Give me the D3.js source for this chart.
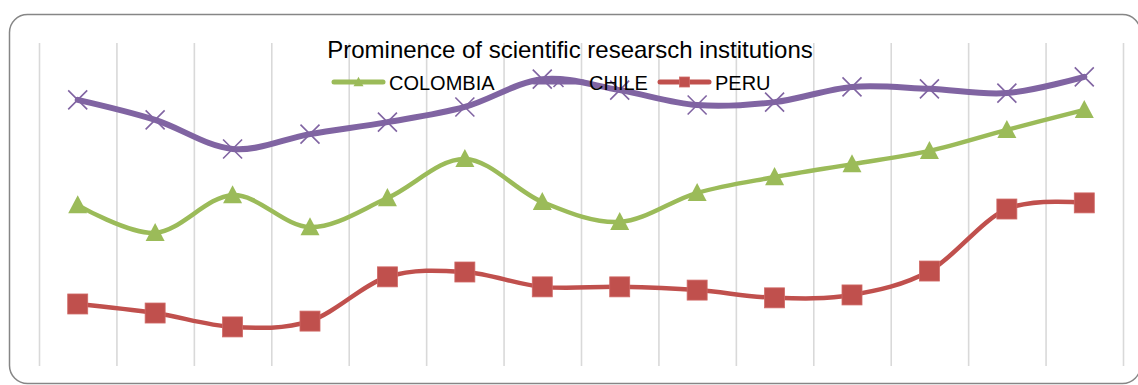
<!DOCTYPE html>
<html>
<head>
<meta charset="utf-8">
<script src="https://cdn.jsdelivr.net/npm/d3@7/dist/d3.min.js"></script>
<style>
  html, body { margin: 0; padding: 0; background: #fff; }
  svg { display: block; font-family: "Liberation Sans", Arial, sans-serif; }
</style>
</head>
<body>
<svg id="chart" width="1138" height="385"></svg>
<script>
// Fourteen observation periods (no axis labels are shown on the chart)
const periods = [1, 2, 3, 4, 5, 6, 7, 8, 9, 10, 11, 12, 13, 14];

// Prominence index per country
const colombia = [49.8, 41.2, 52.9, 43.0, 52.0, 64.1, 50.8, 44.6, 53.6, 58.5, 62.5, 66.6, 73.1, 79.3];
const chile    = [82.4, 76.2, 67.2, 71.8, 75.5, 80.2, 88.8, 85.4, 80.8, 81.7, 86.4, 85.8, 84.5, 89.5];
const peru     = [19.2, 16.4, 12.1, 13.9, 27.6, 29.1, 24.5, 24.5, 23.5, 21.1, 22.0, 29.4, 48.6, 50.5];

const seriesNames = ["COLOMBIA", "CHILE", "PERU"];
const title = "Prominence of scientific researsch institutions";

const series = [
  { name: seriesNames[0], values: colombia, color: "#9BBB59", width: 4.5, marker: "triangle" },
  { name: seriesNames[1], values: chile,    color: "#8064A2", width: 6,   marker: "x" },
  { name: seriesNames[2], values: peru,     color: "#C0504D", width: 4.5, marker: "square" }
];

const svg = d3.select("#chart");

// Outer chart frame with rounded corners
svg.append("rect")
  .attr("x", 9.5).attr("y", 14.5)
  .attr("width", 1131).attr("height", 369)
  .attr("rx", 18).attr("ry", 18)
  .attr("fill", "#fff")
  .attr("stroke", "#868686")
  .attr("stroke-width", 1.5);

const plot = { left: 39, right: 1123, top: 43, bottom: 366 };

const x = d3.scaleBand().domain(periods).range([plot.left, plot.right]).paddingInner(0).paddingOuter(0);
const y = d3.scaleLinear().domain([0, 100]).range([plot.bottom, plot.top]);

// Vertical gridlines at the category boundaries
const gridAxis = d3.axisBottom(
    d3.scaleLinear().domain([0, periods.length]).range([plot.left, plot.right]))
  .tickValues(d3.range(periods.length + 1))
  .tickSize(-(plot.bottom - plot.top))
  .tickFormat("");

const grid = svg.append("g")
  .attr("transform", `translate(0,${plot.bottom})`)
  .call(gridAxis);
grid.select(".domain").remove();
grid.selectAll(".tick line")
  .attr("stroke", "#d9d9d9")
  .attr("stroke-width", 1.6);

const cx = p => x(p) + x.bandwidth() / 2;

const line = d3.line()
  .x((d, i) => cx(periods[i]))
  .y(d => y(d))
  .curve(d3.curveCardinal.tension(0));

// Marker drawing helper
function drawMarker(g, type, color, px, py, size) {
  if (type === "triangle") {
    const h = size * 0.95, w = size;
    g.append("path")
      .attr("d", `M${px},${py - h * 0.55} L${px + w / 2},${py + h * 0.45} L${px - w / 2},${py + h * 0.45} Z`)
      .attr("fill", color);
  } else if (type === "square") {
    g.append("rect")
      .attr("x", px - size / 2).attr("y", py - size / 2)
      .attr("width", size).attr("height", size)
      .attr("fill", color)
      .attr("stroke", "#d06a67").attr("stroke-width", 0.8);
  } else if (type === "x") {
    const r = size / 2;
    g.append("path")
      .attr("d", `M${px - r},${py - r} L${px + r},${py + r} M${px - r},${py + r} L${px + r},${py - r}`)
      .attr("stroke", color)
      .attr("stroke-width", 1.6)
      .attr("fill", "none");
  }
}

// Title
svg.append("text")
  .attr("x", 570).attr("y", 58)
  .attr("text-anchor", "middle")
  .attr("font-size", 24)
  .attr("fill", "#000")
  .text(title);

// Series lines and markers
const seriesG = svg.append("g");
series.forEach(s => {
  seriesG.append("path")
    .datum(s.values)
    .attr("d", line)
    .attr("fill", "none")
    .attr("stroke", s.color)
    .attr("stroke-width", s.width)
    .attr("stroke-linejoin", "round")
    .attr("stroke-linecap", "round");
  const mg = seriesG.append("g");
  s.values.forEach((v, i) => {
    drawMarker(mg, s.marker, s.color, cx(periods[i]), y(v), s.marker === "square" ? 20 : 19);
  });
});

// Legend, drawn above the series
const legendKeyStart = [332, 532, 658];
const legend = svg.append("g");
series.forEach((s, i) => {
  const lx = legendKeyStart[i], ly = 82;
  const g = legend.append("g");
  g.append("line")
    .attr("x1", lx + 2).attr("x2", lx + 51)
    .attr("y1", ly).attr("y2", ly)
    .attr("stroke", s.color).attr("stroke-width", 5)
    .attr("stroke-linecap", "round");
  drawMarker(g, s.marker, s.color, lx + 26.5, ly, 10);
  g.append("text")
    .attr("x", lx + 57).attr("y", ly + 8)
    .attr("font-size", 20)
    .attr("fill", "#000")
    .text(s.name);
});
</script>
</body>
</html>
